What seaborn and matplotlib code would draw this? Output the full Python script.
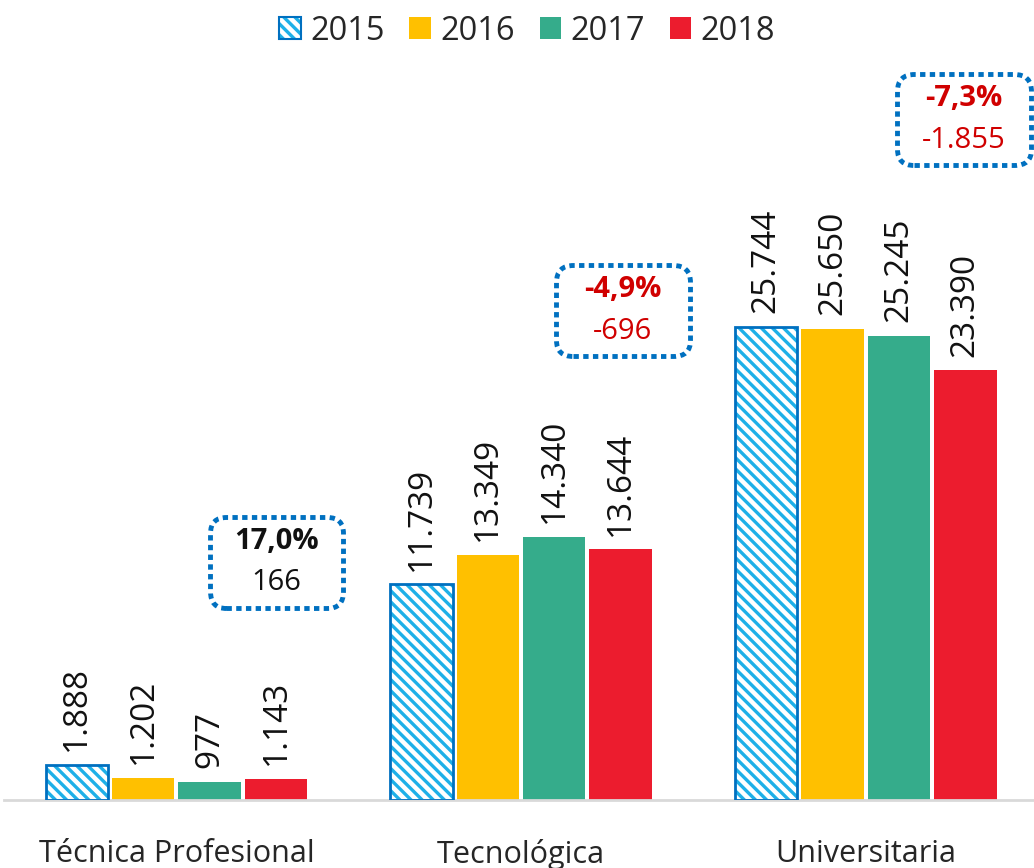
import numpy as np
import pandas as pd
import matplotlib
matplotlib.use("Agg")
import matplotlib.pyplot as plt
import seaborn as sns
from matplotlib.patches import Rectangle, Patch
from matplotlib.legend_handler import HandlerTuple
from matplotlib.offsetbox import AnnotationBbox, TextArea, VPacker

# ----- data -----
categories = ["Técnica Profesional", "Tecnológica", "Universitaria"]
years = ["2015", "2016", "2017", "2018"]
v2015 = [1888, 11739, 25744]
v2016 = [1202, 13349, 25650]
v2017 = [977, 14340, 25245]
v2018 = [1143, 13644, 23390]

colors = {"2015": "#FFFFFF", "2016": "#FFC000", "2017": "#35AC8B", "2018": "#EC1C2E"}
hatch_blue = "#1EB0E8"
edge_blue = "#0070C0"
red_txt = "#D00000"

# annotation box centres (layout only)
box_x = [0.29, 1.295, 2.285]
box_y = [12950, 26650, 37050]

df = pd.DataFrame({
    "cat": categories * 4,
    "year": np.repeat(years, 3),
    "value": v2015 + v2016 + v2017 + v2018,
})

def fmt(v):
    return f"{int(round(v)):,}".replace(",", ".")

sns.set_theme(style="white")
plt.rcParams["font.family"] = ["Open Sans", "DejaVu Sans"]
plt.rcParams["hatch.linewidth"] = 2.4

fig = plt.figure(figsize=(10.34, 8.68), dpi=100)
ax = fig.add_axes([0.004, 0.0783, 1.0, 0.85])

sns.barplot(data=df, x="cat", y="value", hue="year", order=categories,
            hue_order=years, palette=colors, width=0.77, gap=0.06,
            linewidth=0, saturation=1, legend=False, ax=ax)

# hatched 2015 bars with dark blue outline
for p in ax.containers[0]:
    p.set_hatch("\\\\\\")
    p.set_edgecolor(hatch_blue)
    p.set_linewidth(0)
    ax.add_patch(Rectangle(p.get_xy(), p.get_width(), p.get_height(),
                           facecolor="none", edgecolor=edge_blue, lw=2, zorder=3))

# value labels
for cont in ax.containers:
    ax.bar_label(cont, labels=[fmt(v) for v in cont.datavalues], rotation=90,
                 padding=10, fontsize=24, color="#111111")

ax.set_ylim(0, 40170)
ax.set_xlim(-0.5, 2.5)
ax.set_xlabel("")
ax.set_ylabel("")
ax.set_yticks([])
ax.tick_params(axis="x", length=0, pad=28, labelsize=22)
for s in ["top", "left", "right"]:
    ax.spines[s].set_visible(False)
ax.spines["bottom"].set_color("#D9D9D9")
ax.spines["bottom"].set_linewidth(2)

# change boxes 2017 -> 2018
for i in range(3):
    diff = v2018[i] - v2017[i]
    pct = diff / v2017[i] * 100
    col = red_txt if diff < 0 else "#111111"
    pct_s = f"{pct:.1f}%".replace(".", ",")
    top = TextArea(pct_s, textprops=dict(fontsize=21, fontweight="bold", color=col))
    bot = TextArea(fmt(diff), textprops=dict(fontsize=21, color=col))
    pack = VPacker(children=[top, bot], align="center", pad=0, sep=9, width=113)
    ab = AnnotationBbox(pack, (box_x[i], box_y[i]), xycoords="data",
                        box_alignment=(0.5, 0.5), frameon=True, fontsize=10,
                        bboxprops=dict(boxstyle="round,pad=0.75,rounding_size=1.2",
                                       fc="white", ec=edge_blue, lw=3.5,
                                       ls=(0, (1.1, 0.9))))
    ax.add_artist(ab)

# legend
h15 = (Patch(facecolor="white", edgecolor=hatch_blue, hatch="\\\\\\", lw=0),
       Patch(facecolor="none", edgecolor=edge_blue, lw=1.5))
handles = [h15] + [Patch(facecolor=colors[y], lw=0) for y in years[1:]]
fig.legend(handles, years, loc="center", bbox_to_anchor=(0.51, 1 - 31 / 868), ncol=4,
           frameon=False, fontsize=23.5, handlelength=0.65, handleheight=0.65,
           handletextpad=0.3, columnspacing=0.75,
           handler_map={tuple: HandlerTuple(ndivide=1)})

fig.savefig("out.png", dpi=100)
